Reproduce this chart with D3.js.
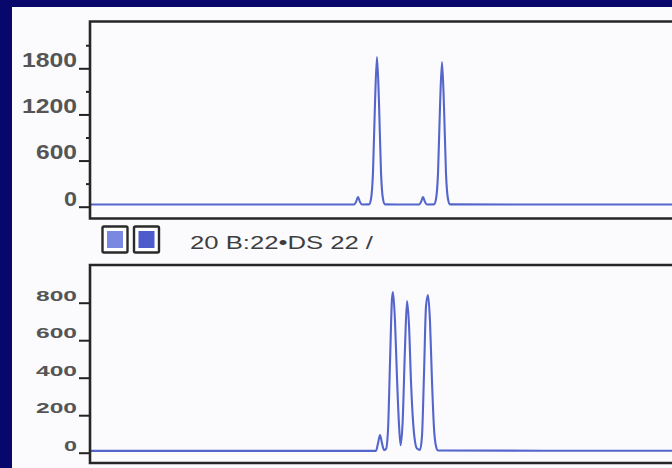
<!DOCTYPE html>
<html>
<head>
<meta charset="utf-8">
<script src="https://cdn.jsdelivr.net/npm/d3@7"></script>
<style>
  html, body { margin: 0; padding: 0; background: #07076c; }
  svg { display: block; }
</style>
</head>
<body>
<svg id="main-svg" width="672" height="468"></svg>
<script>
// top trace: [size, rfu]
var topTrace = [
  [0, 28], [131.5, 28], [132.5, 60], [133.5, 126], [134.5, 60], [135.5, 28],
  [139, 30], [140, 100], [141, 450], [142, 1350], [143, 1947], [144, 1350],
  [145, 450], [146, 100], [147, 30], [164, 28], [165, 60], [166, 126],
  [167, 60], [168, 28], [171.5, 30], [172.5, 100], [173.5, 430], [174.5, 1300],
  [175.5, 1882], [176.5, 1300], [177.5, 430], [178.5, 100], [179.5, 30], [300, 28]
];
var topMajor = [0, 600, 1200, 1800];
var topMinor = [300, 900, 1500, 2100];

// lower trace
var lowTrace = [
  [0, 10], [142.5, 10], [143.5, 50], [144.5, 94], [145.5, 50], [146.5, 14],
  [147.5, 20], [148.5, 120], [149.5, 480], [150.5, 820], [151, 857], [152, 700],
  [153, 400], [154, 150], [154.8, 40], [155.8, 160], [157, 560], [158, 809],
  [159, 680], [160, 380], [161, 170], [162, 60], [163, 22], [164.5, 15],
  [165.5, 90], [166.5, 420], [167.5, 780], [168.5, 841], [169.5, 700],
  [170.5, 380], [171.5, 130], [172.5, 35], [173.5, 12], [300, 10]
];
var lowMajor = [0, 200, 400, 600, 800];

var laneText = "20 B:22\u2022DS 22 /";
var laneColors = ["#7a88e2", "#4d5ccc"];

var svg = d3.select("#main-svg");

svg.append("rect").attr("x", 12).attr("y", 7).attr("width", 660).attr("height", 461)
   .attr("fill", "#fbfbfe");

var x = d3.scaleLinear().domain([0, 300]).range([91, 691]);

function panel(opts) {
  var y = d3.scaleLinear().domain(opts.domain).range(opts.range);
  var g = svg.append("g");
  var id = "clip-" + opts.name;
  svg.append("clipPath").attr("id", id)
     .append("rect").attr("x", 91).attr("y", opts.top).attr("width", 600).attr("height", opts.bottom - opts.top);

  var line = d3.line()
      .x(function(d) { return x(d[0]); })
      .y(function(d) { return y(d[1]); })
      .curve(d3.curveMonotoneX);

  g.append("path").datum(opts.data)
   .attr("clip-path", "url(#" + id + ")")
   .attr("d", line)
   .attr("fill", "none")
   .attr("stroke", "#5465cc")
   .attr("stroke-width", 2.1)
   .attr("stroke-linejoin", "round");

  if (opts.minor) {
    g.append("g").attr("transform", "translate(90,0)")
     .call(d3.axisLeft(y).tickValues(opts.minor).tickSize(4).tickFormat(""))
     .call(function(a) { a.select(".domain").remove(); })
     .selectAll("line").attr("stroke", "#222").attr("stroke-width", 2);
  }

  var ax = g.append("g").attr("transform", "translate(90,0)")
     .call(d3.axisLeft(y).tickValues(opts.major).tickSize(11).tickPadding(2).tickFormat(d3.format("d")));
  ax.select(".domain").remove();
  ax.selectAll("line").attr("stroke", "#222").attr("stroke-width", 2);
  ax.selectAll("text")
    .attr("dy", opts.dy)
    .attr("fill", "#555")
    .style("font-family", "Liberation Sans, Arial, sans-serif")
    .style("font-size", opts.fs + "px")
    .style("font-weight", "bold")
    .attr("textLength", function(d) { return String(d).length * 14 - 1; })
    .attr("lengthAdjust", "spacingAndGlyphs");

  // frame
  g.append("path")
   .attr("d", "M680," + opts.top + "H90V" + opts.bottom + "H680")
   .attr("fill", "none").attr("stroke", "#262626").attr("stroke-width", 2.6);
  return y;
}

panel({ name: "top", domain: [0, 1800], range: [206.7, 68.3], top: 21.5, bottom: 218.5,
        data: topTrace, major: topMajor, minor: topMinor, fs: 20, dy: "-0.08em" });

panel({ name: "low", domain: [0, 800], range: [452.7, 302.7], top: 265, bottom: 463,
        data: lowTrace, major: lowMajor, minor: null, fs: 15.5, dy: "-0.15em" });

// lane boxes and label
var boxes = svg.append("g").selectAll("g").data(laneColors).enter().append("g")
   .attr("transform", function(d, i) { return "translate(" + (102.5 + i * 31.5) + ",226.5)"; });
boxes.append("rect").attr("width", 25).attr("height", 26)
   .attr("fill", "#fff").attr("stroke", "#2a2a2a").attr("stroke-width", 2.4).attr("rx", 1.5);
boxes.append("rect").attr("x", 4.5).attr("y", 4.5).attr("width", 16).attr("height", 17)
   .attr("fill", function(d) { return d; });

svg.append("text").attr("x", 190).attr("y", 249)
   .attr("fill", "#3e3e3e")
   .style("font-family", "Liberation Sans, Arial, sans-serif")
   .style("font-size", "19px")
   .attr("textLength", 183).attr("lengthAdjust", "spacingAndGlyphs")
   .text(laneText);
</script>
</body>
</html>
